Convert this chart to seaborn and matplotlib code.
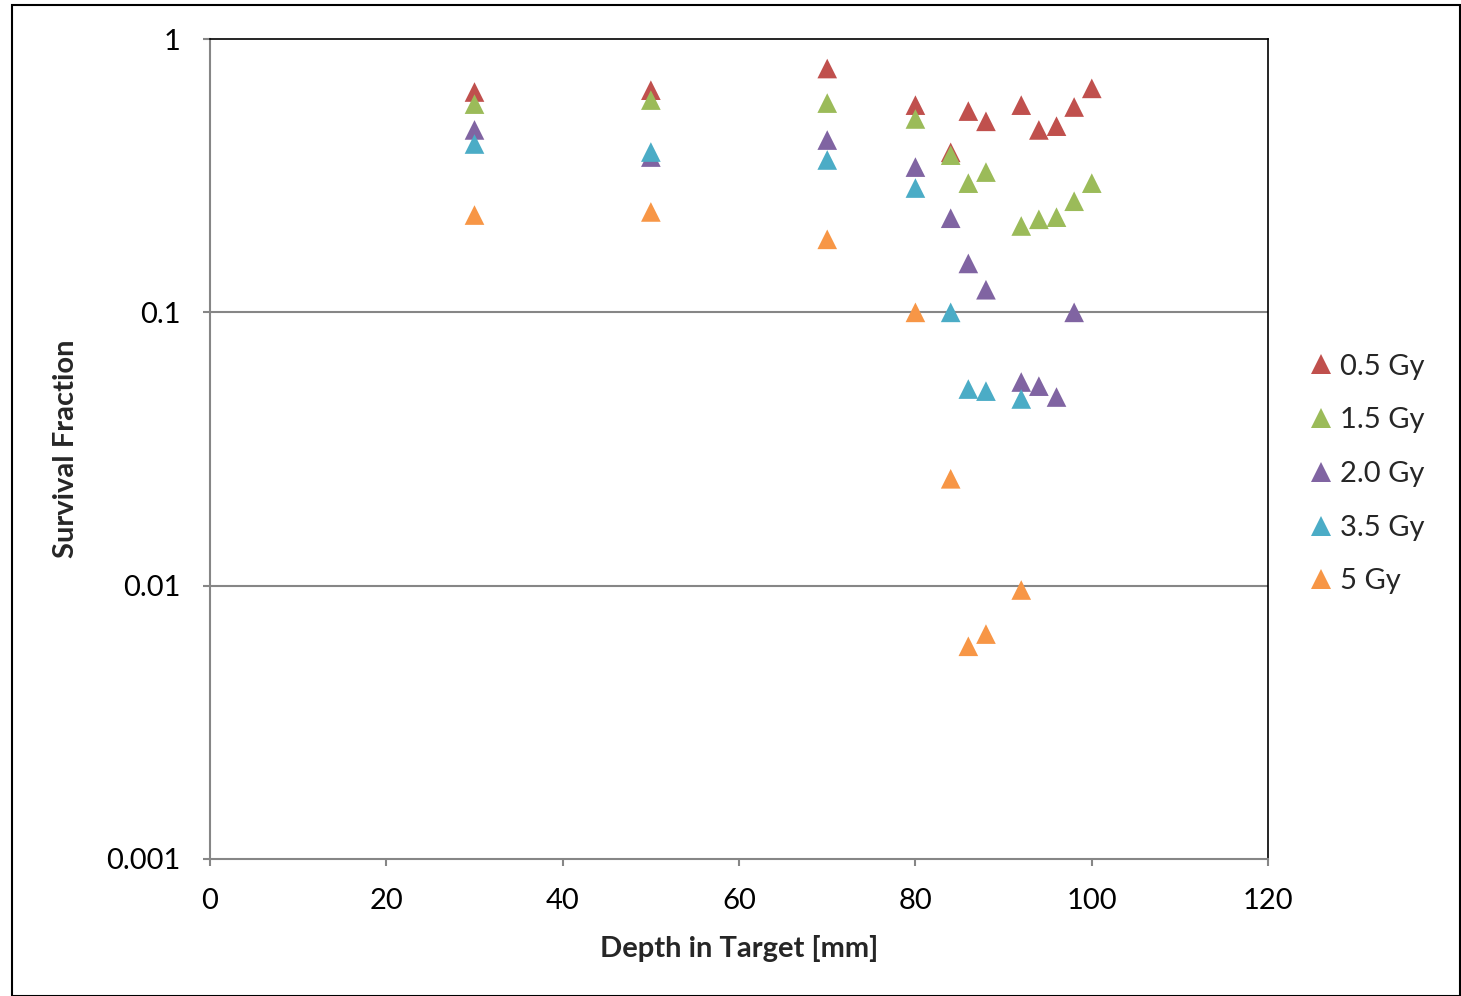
import matplotlib
matplotlib.use("Agg")
import matplotlib.pyplot as plt
import seaborn as sns
import pandas as pd
import numpy as np
from matplotlib.patches import Rectangle
from matplotlib.ticker import FixedLocator, FixedFormatter, NullLocator

series_names = ["0.5 Gy", "1.5 Gy", "2.0 Gy", "3.5 Gy", "5 Gy"]
colors = ["#C0504D", "#9BBB59", "#8064A2", "#4BACC6", "#F79646"]

depth_05 = [30, 50, 70, 80, 84, 86, 88, 92, 94, 96, 98, 100]
sf_05 = [0.64, 0.65, 0.78, 0.573, 0.385, 0.545, 0.50, 0.573, 0.465, 0.48, 0.564, 0.66]

depth_15 = [30, 50, 70, 80, 84, 86, 88, 92, 94, 96, 98, 100]
sf_15 = [0.578, 0.598, 0.583, 0.51, 0.376, 0.297, 0.326, 0.207, 0.219, 0.223, 0.255, 0.297]

depth_20 = [30, 50, 70, 80, 84, 86, 88, 92, 94, 96, 98]
sf_20 = [0.465, 0.37, 0.427, 0.34, 0.221, 0.151, 0.121, 0.0556, 0.0537, 0.049, 0.1]

depth_35 = [30, 50, 70, 80, 84, 86, 88, 92]
sf_35 = [0.413, 0.386, 0.361, 0.285, 0.1, 0.0524, 0.0515, 0.0482]

depth_5 = [30, 50, 70, 80, 84, 86, 88, 92]
sf_5 = [0.227, 0.233, 0.185, 0.1, 0.0246, 0.0060, 0.00665, 0.00964]

y_ticks = [0.001, 0.01, 0.1, 1]
y_tick_labels = ["0.001", "0.01", "0.1", "1"]
x_ticks = [0, 20, 40, 60, 80, 100, 120]

frames = []
for name, d, s in zip(series_names,
                      [depth_05, depth_15, depth_20, depth_35, depth_5],
                      [sf_05, sf_15, sf_20, sf_35, sf_5]):
    frames.append(pd.DataFrame({"Depth": d, "SF": s, "Dose": name}))
df = pd.concat(frames, ignore_index=True)

sns.set_style("white")
plt.rcParams["font.family"] = ["Lato", "DejaVu Sans"]

FS = 21

fig = plt.figure(figsize=(14.61, 9.96), dpi=100)
ax = fig.add_axes([0.1437, 0.1376, 0.868 - 0.1437, 0.9608 - 0.1376])

sns.scatterplot(data=df, x="Depth", y="SF", hue="Dose", hue_order=series_names,
                palette=colors, marker="^", s=200, edgecolor="none", ax=ax,
                zorder=3)

ax.set_yscale("log")
ax.set_xlim(0, 120)
ax.set_ylim(0.001, 1)
ax.yaxis.set_major_locator(FixedLocator(y_ticks))
ax.yaxis.set_major_formatter(FixedFormatter(y_tick_labels))
ax.yaxis.set_minor_locator(NullLocator())
ax.set_xticks(x_ticks)
ax.set_xticklabels([str(v) for v in x_ticks])

for v in y_ticks[1:-1]:
    ax.axhline(v, color="#868686", lw=1.5, zorder=1)

ax.tick_params(axis="both", which="major", labelsize=FS, direction="out",
               length=5, width=1.5, color="#868686", labelcolor="black")
ax.tick_params(axis="x", pad=16)
ax.tick_params(axis="y", pad=16)
ax.xaxis.set_ticks_position("bottom")
ax.yaxis.set_ticks_position("left")

for side in ["left", "bottom"]:
    ax.spines[side].set_color("#868686")
    ax.spines[side].set_linewidth(1.5)
for side in ["top", "right"]:
    ax.spines[side].set_color("black")
    ax.spines[side].set_linewidth(1.2)

ax.set_xlabel("Depth in Target [mm]", fontsize=FS, fontweight="bold", labelpad=15)
ax.set_ylabel("Survival Fraction", fontsize=FS, fontweight="bold", labelpad=20)

handles, labels = ax.get_legend_handles_labels()
ax.legend(handles=handles, labels=labels, loc="center left",
          bbox_to_anchor=(1.022, 0.4695), frameon=False, fontsize=FS,
          handletextpad=0.05, labelspacing=0.95, markerscale=1.0,
          handlelength=1.2, borderaxespad=0)

fig.patches.append(Rectangle((12 / 1461, 0.0), 1 - 13 / 1461, 1 - 5 / 996,
                             transform=fig.transFigure, fill=False,
                             edgecolor="black", lw=1.5))

fig.savefig("out.png", dpi=100)
